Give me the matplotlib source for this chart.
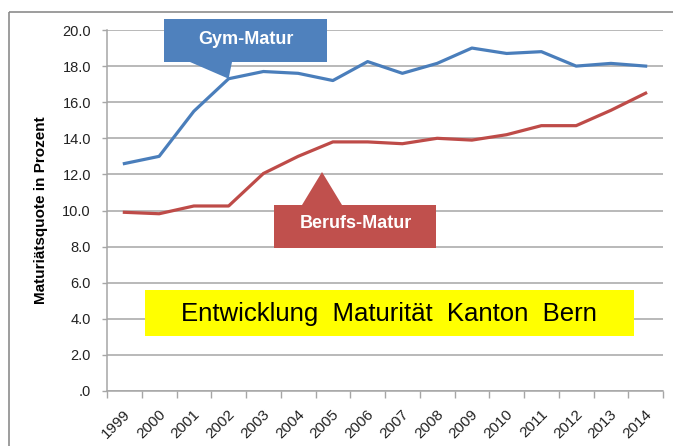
import matplotlib
matplotlib.use("Agg")
import matplotlib.pyplot as plt
from matplotlib.patches import Polygon, Rectangle
import matplotlib.transforms as mtransforms

# values
years = [str(y) for y in range(1999, 2015)]
gym_matur = [12.6, 13.0, 15.5, 17.3, 17.7, 17.6, 17.2, 18.25, 17.6, 18.15, 19.0, 18.7, 18.8, 18.0, 18.15, 18.0]
berufs_matur = [9.9, 9.82, 10.25, 10.25, 12.05, 13.0, 13.8, 13.8, 13.7, 14.0, 13.9, 14.2, 14.7, 14.7, 15.55, 16.5]
y_ticks = [0, 2, 4, 6, 8, 10, 12, 14, 16, 18, 20]
y_ticklabels = [".0", "2.0", "4.0", "6.0", "8.0", "10.0", "12.0", "14.0", "16.0", "18.0", "20.0"]

W, H = 673, 446
plt.rcParams['font.family'] = ['Liberation Sans', 'DejaVu Sans']

fig = plt.figure(figsize=(W / 100, H / 100), dpi=100)


def px(x, y):
    # pixel position (from top-left) -> figure fraction
    return (x / W, 1 - y / H)


left, right, top, bottom = 107, 663, 30, 391
ax = fig.add_axes([left / W, 1 - bottom / H, (right - left) / W, (bottom - top) / H])

blue = '#4a7ebb'
red = '#be4b48'
grid_col = '#a6a6a6'

x = list(range(len(years)))
ax.plot(x, gym_matur, color=blue, linewidth=2.3, solid_joinstyle='round', zorder=3)
ax.plot(x, berufs_matur, color=red, linewidth=2.3, solid_joinstyle='round', zorder=3)

ax.set_xlim(-0.5, len(years) - 0.5)
ax.set_ylim(0, 20)
ax.set_yticks(y_ticks)
ax.set_yticklabels(y_ticklabels, fontsize=10.5, color='#222222')
ax.yaxis.grid(True, color=grid_col, linewidth=1.1)
ax.set_axisbelow(True)

# category ticks sit between the years
ax.set_xticks([i - 0.5 for i in range(len(years) + 1)])
ax.set_xticklabels([])
ax.set_xticks(x, minor=True)
ax.set_xticklabels(years, minor=True, rotation=45, ha='right', va='center',
                   rotation_mode='anchor', fontsize=11, color='#222222')
ax.tick_params(axis='x', which='minor', length=0, pad=15)
ax.tick_params(axis='x', which='major', length=5, color=grid_col, width=1)
ax.tick_params(axis='y', length=3.6, color=grid_col, width=1, pad=8)
offset = mtransforms.ScaledTranslation(4 / 100, 0, fig.dpi_scale_trans)
for lab in ax.xaxis.get_minorticklabels():
    lab.set_transform(lab.get_transform() + offset)

for side in ['top', 'right']:
    ax.spines[side].set_visible(False)
for side in ['left', 'bottom']:
    ax.spines[side].set_color(grid_col)
    ax.spines[side].set_linewidth(1.1)

ax.set_ylabel('Maturiätsquote in Prozent', fontsize=11, fontweight='bold')
ax.yaxis.set_label_coords(-0.106, 0.5)

# outer border
fig.add_artist(Rectangle(px(9, 12), 700 / W, -500 / H, transform=fig.transFigure,
                         fill=False, edgecolor='#8c8c8c', linewidth=1.2, zorder=0))

# Gym-Matur callout, pointer ends on the 2002 point
tip = fig.transFigure.inverted().transform(ax.transData.transform((3, gym_matur[3])))
gym_poly = [px(164, 19), px(327, 19), px(327, 62), px(232, 62), tuple(tip), px(190, 62), px(164, 62)]
fig.add_artist(Polygon(gym_poly, closed=True, transform=fig.transFigure,
                       facecolor='#4f81bd', edgecolor='none', zorder=5))
fig.text(*px(246, 39), 'Gym-Matur', color='white', fontsize=13, fontweight='bold',
         ha='center', va='center', zorder=6)

# Berufs-Matur callout
ber_poly = [px(274, 205), px(302, 205), px(322, 172), px(342, 205), px(436, 205), px(436, 248), px(274, 248)]
fig.add_artist(Polygon(ber_poly, closed=True, transform=fig.transFigure,
                       facecolor='#c0504d', edgecolor='none', zorder=5))
fig.text(*px(356, 224), 'Berufs-Matur', color='white', fontsize=13, fontweight='bold',
         ha='center', va='center', zorder=6)

# yellow title box
fig.add_artist(Rectangle(px(145, 336), (634 - 145) / W, 46 / H, transform=fig.transFigure,
                         facecolor='#ffff00', edgecolor='none', zorder=5))
fig.text(*px(389, 314), 'Entwicklung  Maturität  Kanton  Bern', color='black', fontsize=18.5,
         ha='center', va='center', zorder=6)

plt.savefig('out.png', dpi=100)
